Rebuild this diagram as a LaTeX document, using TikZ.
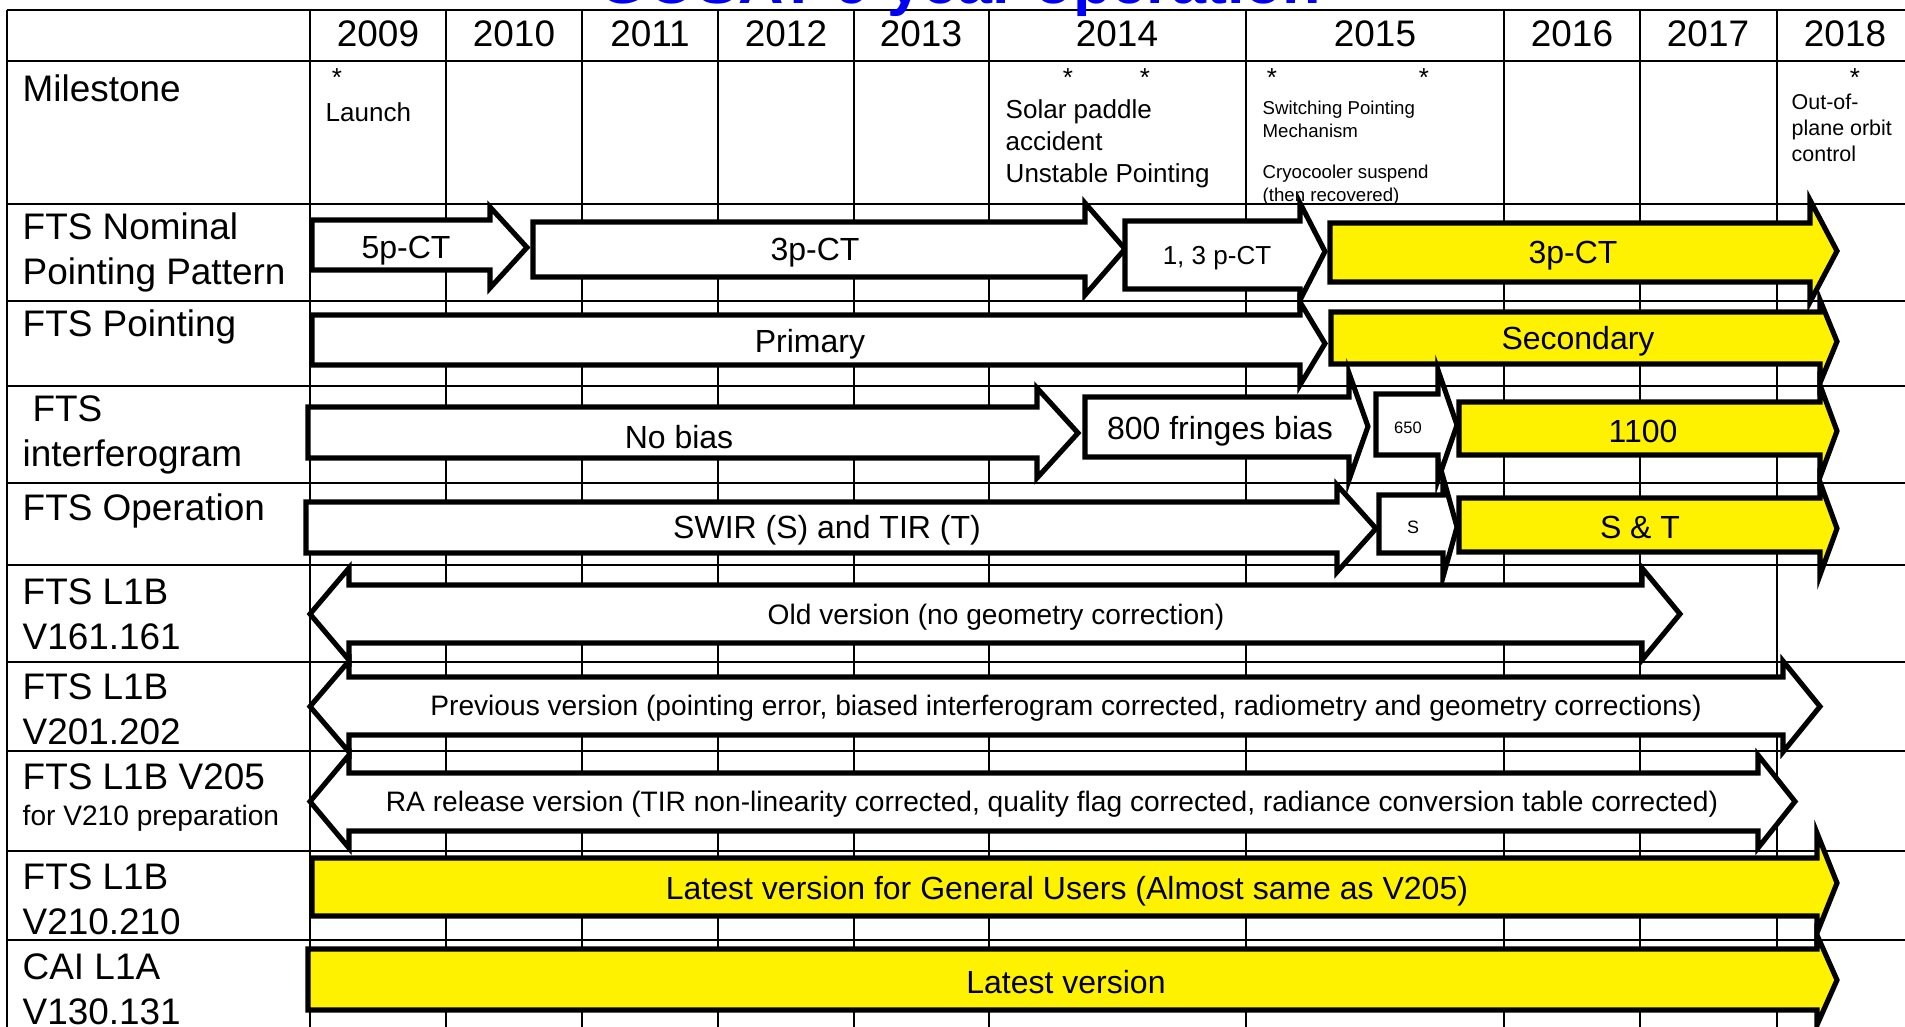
\documentclass[tikz,border=0pt]{standalone}
\usepackage{fontspec}
\setmainfont{Liberation Sans}
\usepackage{tikz}
\usepackage{xcolor}
\colorlet{barcol}{yellow}
\definecolor{titleblue}{RGB}{0,0,245}
\tikzstyle{grid}=[line width=0.75pt,black]
\tikzstyle{blk}=[line width=1.45pt,black,line join=miter,fill=white]
\tikzstyle{rowlbl}=[anchor=west,align=left,yshift=-0.8pt,font=\fontsize{10.5pt}{12.8pt}\selectfont]
\tikzstyle{yearlbl}=[font=\fontsize{10.5pt}{12.6pt}\selectfont]
\tikzstyle{barlbl}=[yshift=-0.8pt,font=\fontsize{9.1pt}{11pt}\selectfont]
\tikzstyle{verlbl}=[yshift=-0.6pt,font=\fontsize{8pt}{9.6pt}\selectfont]
\tikzstyle{mslbl}=[anchor=west,align=left,yshift=-0.6pt,font=\fontsize{7.4pt}{9.1pt}\selectfont]
\tikzstyle{mstar}=[anchor=base,font=\fontsize{7.4pt}{9pt}\selectfont]

% #1 fill, #2 left, #3 head base, #4 tip, #5/#6 body top/bottom, #7/#8 wing top/bottom
\newcommand{\blockarr}[8]{%
  \draw[blk,fill=#1] (#2,#5) -- (#3,#5) -- (#3,#7) -- (#4,{(#7+#8)/2})
    -- (#3,#8) -- (#3,#6) -- (#2,#6) -- cycle;}
% #1 left tip, #2 left base, #3 right base, #4 right tip, #5/#6 body, #7/#8 wings
\newcommand{\dblarr}[8]{%
  \draw[blk] (#1,{(#7+#8)/2}) -- (#2,#7) -- (#2,#5) -- (#3,#5) -- (#3,#7)
    -- (#4,{(#7+#8)/2}) -- (#3,#8) -- (#3,#6) -- (#2,#6) -- (#2,#8) -- cycle;}

\begin{document}
\begin{tikzpicture}[x=0.01cm,y=-0.01cm]
  \tikzstyle{every node}=[inner sep=0]
  \useasboundingbox (0,0) rectangle (1905,1027);
  \clip (0,0) rectangle (1905,1027);

  % table
  \foreach \gx in {7,310,446,582,718,854,989,1246,1504,1640,1777}
    \draw[grid] (\gx,10) -- (\gx,1027);
  \foreach \gy in {10,61,204,301,386,483,565,662,751,851,940}
    \draw[grid] (7,\gy) -- (1905,\gy);

  \node[anchor=base,text=titleblue,font=\bfseries\fontsize{17.9pt}{20pt}\selectfont]
    (title) at (960,4) {GOSAT 9 year operation};

  % years
  \foreach \yr/\xc in {2009/378,2010/514,2011/650,2012/786,2013/921,
                       2014/1117,2015/1375,2016/1572,2017/1708,2018/1845}
    \node[yearlbl] (y\yr) at (\xc,34) {\yr};

  % row names
  \node[rowlbl] (rms) at (22,85) {Milestone};
  \node[rowlbl] (rnom) at (22,250) {FTS Nominal\\Pointing Pattern};
  \node[rowlbl] (rpnt) at (22,324) {FTS Pointing};
  \node[rowlbl] (rint) at (22,432) {\hspace*{2.8pt}FTS\\interferogram};
  \node[rowlbl] (rop) at (22,508) {FTS Operation};
  \node[rowlbl] (r161) at (22,611) {FTS L1B\\V161.161};
  \node[rowlbl] (r201) at (22,706) {FTS L1B\\V201.202};
  \node[rowlbl] (r205) at (22,774) {FTS L1B V205};
  \node[rowlbl,font=\fontsize{8pt}{9.6pt}\selectfont] (r205b) at (22,815) {for V210 preparation};
  \node[rowlbl] (r210) at (22,896) {FTS L1B\\V210.210};
  \node[rowlbl] (rcai) at (22,986) {CAI L1A\\V130.131};

  % milestones
  \foreach \sx [count=\si] in {337,1068,1145,1272,1424,1855}
    \node[mstar] (st\si) at (\sx,87) {*};
  \node[mslbl] (launch) at (325,110) {Launch};
  \node[mslbl] (paddle) at (1005,142) {Solar paddle\\accident\\Unstable Pointing};
  \node[mslbl,font=\fontsize{5.3pt}{6.4pt}\selectfont] (spm) at (1262,117)
    {Switching Pointing\\Mechanism};
  \node[mslbl,font=\fontsize{5.3pt}{6.4pt}\selectfont] (cryo) at (1262,183)
    {Cryocooler suspend\\(then recovered)};
  \node[mslbl,font=\fontsize{6.1pt}{7.4pt}\selectfont] (oop) at (1791,126)
    {Out-of-\\plane orbit\\control};

  % FTS nominal pointing pattern
  \blockarr{white}{312}{490}{527}{220}{270}{207}{288}
  \blockarr{white}{533}{1085}{1125}{222}{277}{203}{295}
  \blockarr{white}{1125}{1300}{1325}{221}{289}{203}{300}
  \blockarr{barcol}{1330}{1810}{1837}{223}{282}{200}{302}
  \node[barlbl] (p5) at (406,248) {5p-CT};
  \node[barlbl] (p3) at (815,250) {3p-CT};
  \node[barlbl,font=\fontsize{7.4pt}{9pt}\selectfont] (p13) at (1217,255) {1, 3 p-CT};
  \node[barlbl] (p3b) at (1573,253) {3p-CT};

  % FTS pointing
  \blockarr{white}{312}{1300}{1325}{315}{365}{302}{385}
  \blockarr{barcol}{1331}{1820}{1837}{312}{364}{300}{383}
  \node[barlbl] (prim) at (810,341) {Primary};
  \node[barlbl] (sec) at (1578,338) {Secondary};

  % FTS interferogram
  \blockarr{white}{308}{1037}{1078}{407}{458}{388}{478}
  \blockarr{white}{1085}{1349}{1368}{397}{457}{373}{480}
  \blockarr{white}{1376}{1438}{1457}{394}{455}{370}{480}
  \blockarr{barcol}{1459}{1820}{1837}{402}{455}{385}{477}
  \node[barlbl] (nob) at (679,434) {No bias};
  \node[barlbl] (f800) at (1220,428) {800 fringes bias};
  \node[barlbl,font=\fontsize{4.7pt}{6pt}\selectfont] (f650) at (1408,425) {650};
  \node[barlbl] (f1100) at (1643,429) {1100};

  % FTS operation
  \blockarr{white}{306}{1337}{1376}{502}{553}{485}{572}
  \blockarr{white}{1379}{1443}{1457}{495}{553}{477}{577}
  \blockarr{barcol}{1459}{1820}{1837}{498}{552}{482}{575}
  \node[barlbl] (swir) at (827,527) {SWIR (S) and TIR (T)};
  \node[barlbl,font=\fontsize{5.1pt}{6pt}\selectfont] (sonly) at (1413,525) {S};
  \node[barlbl] (st) at (1640,525) {S \& T};

  % L1B versions
  \dblarr{310}{349}{1642}{1680}{585}{643}{568}{660}
  \dblarr{310}{349}{1783}{1820}{677}{735}{661}{752}
  \dblarr{310}{349}{1758}{1795}{773}{831}{755}{848}
  \node[verlbl] (v161) at (996,615) {Old version (no geometry correction)};
  \node[verlbl] (v201) at (1066,706) {Previous version (pointing error, biased interferogram corrected, radiometry and geometry corrections)};
  \node[verlbl] (v205) at (1052,802) {RA release version (TIR non-linearity corrected, quality flag corrected, radiance conversion table corrected)};

  \blockarr{barcol}{312}{1817}{1837}{858}{916}{833}{933}
  \blockarr{barcol}{308}{1817}{1837}{949}{1010}{935}{1025}
  \node[barlbl] (v210) at (1067,888) {Latest version for General Users (Almost same as V205)};
  \node[barlbl] (cai) at (1066,979) {Latest version};
\end{tikzpicture}
\end{document}
